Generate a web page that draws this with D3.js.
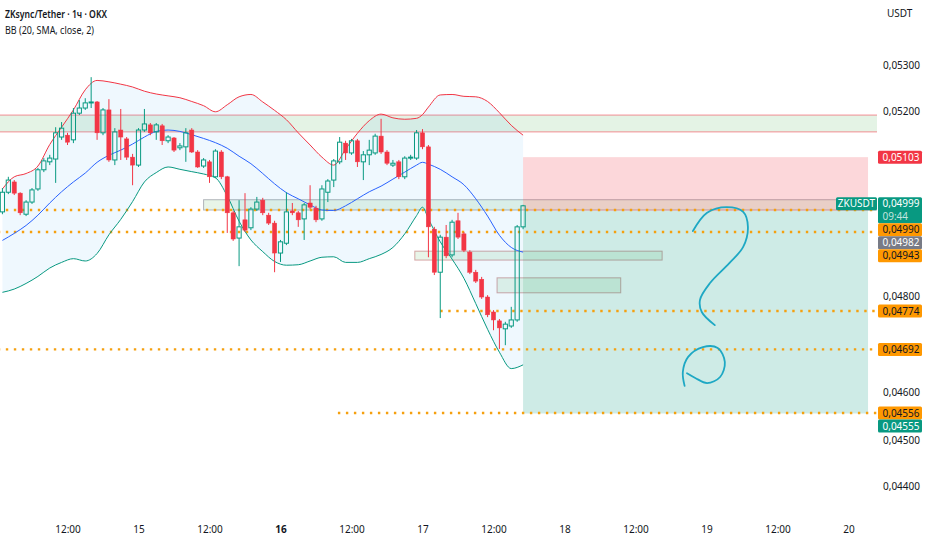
<!DOCTYPE html>
<html>
<head>
<meta charset="utf-8">
<script src="https://cdn.jsdelivr.net/npm/d3@7"></script>
<style>
  body { margin: 0; background: #fff; }
  svg { display: block; font-family: "Noto Sans", "Open Sans", sans-serif; }
</style>
</head>
<body>
<div id="chart"></div>
<script>
// hourly candles, the first one is 14 Jan 01:00 (hour -23 counted from 15 Jan 00:00)
var firstHour = -23;
var opens = [0.04986,0.05028,0.05050,0.05026,0.04981,0.05007,0.05035,0.05076,0.05093,0.05099,
  0.05146,0.05150,0.05140,0.05197,0.05208,0.05219,0.05221,0.05155,0.05204,0.05097,
  0.05161,0.05142,0.05103,0.05086,0.05161,0.05172,0.05157,0.05170,0.05138,0.05144,
  0.05123,0.05125,0.05161,0.05114,0.05084,0.05093,0.05061,0.05114,0.05061,0.04984,
  0.04930,0.04969,0.04952,0.04992,0.05011,0.04979,0.04962,0.04898,0.04919,0.04988,
  0.04984,0.04971,0.05005,0.04994,0.04971,0.05028,0.05054,0.05093,0.05133,0.05112,
  0.05138,0.05093,0.05108,0.05112,0.05148,0.05114,0.05086,0.05093,0.05061,0.05101,
  0.05101,0.05155,0.05125,0.04949,0.04857,0.04932,0.04894,0.04967,0.04939,0.04900,
  0.04857,0.04842,0.04804,0.04772,0.04753,0.04736,0.04742,0.04755,0.04954];
var highs = [0.05037,0.05061,0.05054,0.05028,0.05011,0.05037,0.05080,0.05101,0.05108,0.05167,
  0.05178,0.05155,0.05208,0.05225,0.05229,0.05274,0.05223,0.05208,0.05227,0.05165,
  0.05206,0.05146,0.05110,0.05165,0.05206,0.05176,0.05176,0.05174,0.05150,0.05146,
  0.05133,0.05165,0.05165,0.05118,0.05101,0.05097,0.05120,0.05118,0.05063,0.04988,
  0.05011,0.05026,0.04996,0.05018,0.05016,0.04984,0.04967,0.04926,0.05028,0.05005,
  0.04988,0.05005,0.05043,0.04999,0.05043,0.05056,0.05099,0.05146,0.05138,0.05142,
  0.05142,0.05116,0.05140,0.05153,0.05185,0.05118,0.05097,0.05097,0.05105,0.05108,
  0.05161,0.05163,0.05129,0.04954,0.04937,0.04958,0.04969,0.04984,0.04943,0.04904,
  0.04862,0.04847,0.04808,0.04776,0.04757,0.04751,0.04783,0.04958,0.05001];
var lows = [0.04981,0.05024,0.05022,0.04979,0.04977,0.05003,0.05031,0.05071,0.05086,0.05048,
  0.05140,0.05129,0.05133,0.05193,0.05204,0.05208,0.05140,0.05150,0.05093,0.05086,
  0.05097,0.05097,0.05043,0.05082,0.05157,0.05150,0.05140,0.05129,0.05133,0.05114,
  0.05118,0.05093,0.05112,0.05080,0.05080,0.05048,0.05058,0.05056,0.04941,0.04924,
  0.04870,0.04943,0.04947,0.04988,0.04979,0.04958,0.04857,0.04879,0.04915,0.04979,
  0.04954,0.04926,0.04992,0.04964,0.04967,0.05007,0.05039,0.05088,0.05097,0.05108,
  0.05082,0.05054,0.05086,0.05108,0.05110,0.05086,0.05082,0.05056,0.05056,0.05097,
  0.05097,0.05120,0.04889,0.04851,0.04759,0.04887,0.04889,0.04928,0.04900,0.04853,
  0.04834,0.04800,0.04761,0.04733,0.04693,0.04701,0.04738,0.04751,0.04949];
var closes = [0.05028,0.05054,0.05026,0.04984,0.05007,0.05033,0.05076,0.05095,0.05101,0.05155,
  0.05165,0.05135,0.05197,0.05208,0.05219,0.05221,0.05155,0.05204,0.05097,0.05157,
  0.05146,0.05103,0.05086,0.05161,0.05174,0.05155,0.05172,0.05138,0.05146,0.05118,
  0.05127,0.05155,0.05114,0.05082,0.05097,0.05061,0.05116,0.05061,0.04984,0.04928,
  0.04954,0.04947,0.04992,0.05007,0.04984,0.04962,0.04898,0.04922,0.04986,0.04984,
  0.04969,0.05001,0.04996,0.04969,0.05035,0.05052,0.05095,0.05135,0.05112,0.05138,
  0.05093,0.05108,0.05118,0.05148,0.05114,0.05090,0.05090,0.05061,0.05101,0.05103,
  0.05155,0.05125,0.04954,0.04857,0.04932,0.04892,0.04964,0.04932,0.04904,0.04857,
  0.04838,0.04804,0.04766,0.04755,0.04738,0.04746,0.04755,0.04954,0.04999];

// Bollinger bands, at these candle indexes
var bbIndex = [0,2,4,6,8,10,12,14,16,18,20,22,24,26,28,30,32,34,36,38,40,42,44,46,48,50,
  52,54,56,58,60,62,64,66,68,70,71,72,74,76,78,80,82,84,86,88];
var bbUpper = [0.05035,0.05061,0.05068,0.05084,0.05130,0.05167,0.05204,0.05247,0.05267,0.05264,
  0.05259,0.05253,0.05244,0.05238,0.05234,0.05230,0.05222,0.05213,0.05200,0.05215,
  0.05232,0.05237,0.05221,0.05203,0.05183,0.05155,0.05129,0.05103,0.05086,0.05120,
  0.05154,0.05181,0.05195,0.05187,0.05184,0.05186,0.05194,0.05210,0.05236,0.05237,
  0.05233,0.05232,0.05222,0.05198,0.05171,0.05150];
var bbMiddle = [0.04925,0.04940,0.04957,0.04979,0.05005,0.05029,0.05050,0.05069,0.05092,0.05107,
  0.05118,0.05131,0.05146,0.05158,0.05161,0.05158,0.05151,0.05143,0.05134,0.05122,
  0.05105,0.05089,0.05068,0.05046,0.05027,0.05014,0.05001,0.04990,0.04989,0.04999,
  0.05014,0.05029,0.05041,0.05056,0.05071,0.05086,0.05092,0.05088,0.05077,0.05061,
  0.05044,0.05014,0.04977,0.04936,0.04910,0.04900];
var bbLower = [0.04814,0.04821,0.04833,0.04848,0.04866,0.04878,0.04886,0.04881,0.04897,0.04937,
  0.04970,0.05008,0.05050,0.05070,0.05082,0.05077,0.05072,0.05067,0.05059,0.05020,
  0.04966,0.04926,0.04901,0.04880,0.04872,0.04873,0.04881,0.04889,0.04890,0.04878,
  0.04878,0.04886,0.04895,0.04910,0.04939,0.04978,0.04996,0.04971,0.04922,0.04885,
  0.04844,0.04790,0.04735,0.04686,0.04651,0.04659];

// drawn rectangles (hours, prices)
var rectStart  = [-40, 11, 46.7, 60.6];
var rectEnd    = [140, 140, 88.5, 81.5];
var rectTop    = [0.05193, 0.05012, 0.04902, 0.04845];
var rectBottom = [0.05157, 0.04990, 0.04883, 0.04813];
var rectKind   = ["zone", "grey", "pink", "pink"];

// short position tool
var posStart = 65, posEnd = 123.3;
var posStop = 0.05103, posEntry = 0.04988, posTarget = 0.04555;

// dotted horizontal levels
var levelPrices = [0.04990, 0.04943, 0.04774, 0.04692, 0.04556];
var levelStart  = [-40, -40, 51, -40, 33.7];

// hand-drawn question mark (hours, prices)
var qTop = [[93.7,0.04945],[96.1,0.04984],[99.4,0.04996],[102.2,0.04986],[103.0,0.04954],
  [102.2,0.04911],[99.9,0.04877],[96.6,0.04834],[94.9,0.04798],[95.2,0.04772],[97.4,0.04744]];
var qDot = [[92.3,0.04614],[92.0,0.04644],[92.9,0.04676],[95.4,0.04697],[97.9,0.04695],
  [99.1,0.04665],[98.3,0.04633],[96.1,0.04620],[94.1,0.04631],[92.7,0.04641]];

// right scale labels
var lastPrice = 0.04999, countdown = "09:44", symbol = "ZKUSDT";
var labelPrices = [0.05103, 0.04990, 0.04982, 0.04943, 0.04774, 0.04692, 0.04556, 0.04555];
var labelKinds  = ["stop", "level", "bb", "level", "level", "level", "level", "target"];
var priceTicks = [0.044, 0.045, 0.046, 0.047, 0.048, 0.049, 0.050, 0.051, 0.052, 0.053];

// time axis
var timeTicks  = [-12, 0, 12, 24, 36, 48, 60, 72, 84, 96, 108, 120];
var timeLabels = ["12:00", "15", "12:00", "16", "12:00", "17", "12:00", "18", "12:00", "19", "12:00", "20"];

var width = 932, height = 550, plotRight = 877, plotBottom = 515;
var upColor = "#089981", downColor = "#f23645", orange = "#ff9800";
var fontSize = 10;

var svg = d3.select("#chart").append("svg")
  .attr("width", width)
  .attr("height", height);

var x = d3.scaleLinear().domain([-12, 120]).range([67.5, 848.5]);
var y = d3.scaleLinear().domain([0.044, 0.053]).range([486, 65]);
function cx(i) { return x(firstHour + i); }
function fmt(p) { return p.toFixed(5).replace(".", ","); }

svg.append("defs").append("clipPath").attr("id", "plot")
  .append("rect").attr("width", plotRight).attr("height", plotBottom);

var plot = svg.append("g").attr("clip-path", "url(#plot)");

// rectangles
var rectStyle = {
  zone: { fill: "rgba(76,175,80,0.15)", stroke: "rgba(242,54,69,0.55)" },
  grey: { fill: "rgba(76,175,80,0.13)", stroke: "rgba(120,123,134,0.55)" },
  pink: { fill: "rgba(76,175,80,0.13)", stroke: "rgba(190,110,110,0.6)" }
};
rectStart.forEach(function (s, i) {
  var st = rectStyle[rectKind[i]];
  plot.append("rect")
    .attr("x", x(s)).attr("y", y(rectTop[i]))
    .attr("width", x(rectEnd[i]) - x(s))
    .attr("height", y(rectBottom[i]) - y(rectTop[i]))
    .attr("fill", st.fill).attr("stroke", st.stroke).attr("stroke-width", 1);
});

// Bollinger fill
var bb = bbIndex.map(function (d, i) { return { i: d, u: bbUpper[i], m: bbMiddle[i], l: bbLower[i] }; });
plot.append("path").datum(bb)
  .attr("fill", "rgba(33,150,243,0.07)")
  .attr("d", d3.area().curve(d3.curveMonotoneX)
    .x(function (d) { return cx(d.i); })
    .y0(function (d) { return y(d.l); })
    .y1(function (d) { return y(d.u); }));

// position tool
plot.append("rect")
  .attr("x", x(posStart)).attr("y", y(posStop))
  .attr("width", x(posEnd) - x(posStart)).attr("height", y(posEntry) - y(posStop))
  .attr("fill", "rgba(242,54,69,0.2)");
plot.append("rect")
  .attr("x", x(posStart)).attr("y", y(posEntry))
  .attr("width", x(posEnd) - x(posStart)).attr("height", y(posTarget) - y(posEntry))
  .attr("fill", "rgba(8,153,129,0.2)");

// dotted levels
levelPrices.forEach(function (p, i) {
  plot.append("line")
    .attr("x1", x(levelStart[i])).attr("x2", plotRight)
    .attr("y1", y(p)).attr("y2", y(p))
    .attr("stroke", "#f5a00f").attr("stroke-width", 2.4)
    .attr("stroke-dasharray", "2.4 5.6");
});

// bands
[["u", "#f23645"], ["m", "#2962ff"], ["l", "#089981"]].forEach(function (b) {
  plot.append("path").datum(bb)
    .attr("fill", "none").attr("stroke", b[1]).attr("stroke-width", 1)
    .attr("d", d3.line().curve(d3.curveMonotoneX)
      .x(function (d) { return cx(d.i); })
      .y(function (d) { return y(d[b[0]]); }));
});

// candles
var bodyW = 4.2;
opens.forEach(function (o, i) {
  var c = closes[i], up = c >= o;
  var xc = cx(i);
  var top = y(Math.max(o, c)), bot = y(Math.min(o, c));
  if (bot - top < 1) bot = top + 1;
  var col = up ? upColor : downColor;
  plot.append("line").attr("x1", xc).attr("x2", xc)
    .attr("y1", y(highs[i])).attr("y2", up ? top : bot)
    .attr("stroke", col).attr("stroke-width", 1);
  plot.append("line").attr("x1", xc).attr("x2", xc)
    .attr("y1", bot).attr("y2", y(lows[i]))
    .attr("stroke", col).attr("stroke-width", 1);
  plot.append("rect")
    .attr("x", xc - bodyW / 2).attr("y", top)
    .attr("width", bodyW).attr("height", bot - top)
    .attr("fill", up ? "none" : downColor)
    .attr("stroke", col).attr("stroke-width", up ? 1 : 0.5);
});

// question mark
var qLine = d3.line().curve(d3.curveCatmullRom)
  .x(function (d) { return x(d[0]); })
  .y(function (d) { return y(d[1]); });
[qTop, qDot].forEach(function (pts) {
  plot.append("path").datum(pts)
    .attr("fill", "none").attr("stroke", "#1ea8c4")
    .attr("stroke-width", 1.8).attr("stroke-linecap", "round")
    .attr("d", qLine);
});

// title
svg.append("text").attr("x", 5).attr("y", 18)
  .attr("font-size", 10.5).attr("font-weight", 600).attr("fill", "#131722")
  .attr("textLength", 102).attr("lengthAdjust", "spacingAndGlyphs")
  .text("ZKsync/Tether · 1ч · OKX");
svg.append("text").attr("x", 5).attr("y", 34)
  .attr("font-size", 10.5).attr("fill", "#131722")
  .attr("textLength", 89).attr("lengthAdjust", "spacingAndGlyphs")
  .text("BB (20, SMA, close, 2)");
svg.append("text").attr("x", 887).attr("y", 17)
  .attr("font-size", fontSize).attr("fill", "#131722")
  .text("USDT");

// price labels, stacked so they don't overlap
var labelFill = { stop: downColor, level: orange, bb: "#787b86", target: upColor, last: upColor };
var labelText = { stop: "#fff", level: "#131722", bb: "#fff", target: "#fff", last: "#fff" };
var labels = labelPrices.map(function (p, i) {
  return { price: p, kind: labelKinds[i], top: y(p) - 6.5, h: 13 };
});
labels.push({ price: lastPrice, kind: "last", top: y(lastPrice) - 8.5, h: 26 });
labels.sort(function (a, b) { return a.top - b.top; });
var prevBottom = -1e9;
labels.forEach(function (l) {
  if (l.top < prevBottom) l.top = prevBottom;
  prevBottom = l.top + l.h;
});

// price axis: ticks under a label are hidden, ticks touching one are nudged clear
function covered(p) {
  var ty = y(p);
  return labels.some(function (l) { return ty > l.top - 5 && ty < l.top + l.h + 5; });
}
function nudge(p) {
  var ty = y(p), shift = 0, gap = 8;
  labels.forEach(function (l) {
    var bottom = l.top + l.h;
    if (ty >= bottom && ty < bottom + gap) shift = bottom + gap - ty;
    if (ty <= l.top && ty > l.top - gap) shift = l.top - gap - ty;
  });
  return shift;
}
var yAxis = svg.append("g").attr("transform", "translate(" + (plotRight + 6) + ",0)")
  .call(d3.axisRight(y).tickValues(priceTicks.filter(function (p) { return !covered(p); }))
    .tickSize(0).tickPadding(0).tickFormat(fmt));
yAxis.select(".domain").remove();
yAxis.selectAll("text").attr("font-size", fontSize).attr("fill", "#131722")
  .attr("font-family", "Noto Sans, sans-serif").attr("dy", "0.32em")
  .attr("y", function (d) { return nudge(d); });

// time axis
var xAxis = svg.append("g").attr("transform", "translate(0,526)")
  .call(d3.axisBottom(x).tickValues(timeTicks).tickSize(0).tickPadding(0)
    .tickFormat(function (d, i) { return timeLabels[i]; }));
xAxis.select(".domain").remove();
xAxis.selectAll("text").attr("font-size", fontSize).attr("fill", "#131722")
  .attr("font-family", "Noto Sans, sans-serif")
  .attr("font-weight", function (d, i) { return timeLabels[i] === "16" ? 700 : 400; });

labels.forEach(function (l) {
  var g = svg.append("g").attr("transform", "translate(878," + l.top + ")");
  g.append("rect").attr("width", 44).attr("height", l.h).attr("rx", 1.5)
    .attr("fill", labelFill[l.kind]);
  g.append("text").attr("x", 4.5).attr("y", 6.5).attr("dy", "0.35em")
    .attr("font-size", fontSize).attr("fill", labelText[l.kind]).text(fmt(l.price));
  if (l.kind === "last") {
    g.append("text").attr("x", 4.5).attr("y", 19).attr("dy", "0.35em")
      .attr("font-size", fontSize).attr("fill", "rgba(255,255,255,0.75)").text(countdown);
    var s = svg.append("g").attr("transform", "translate(836," + l.top + ")");
    s.append("rect").attr("width", 41).attr("height", 13).attr("rx", 1.5).attr("fill", upColor);
    s.append("text").attr("x", 20.5).attr("y", 6.5).attr("dy", "0.35em")
      .attr("text-anchor", "middle").attr("font-size", fontSize).attr("fill", "#fff").text(symbol);
  }
});
</script>
</body>
</html>
